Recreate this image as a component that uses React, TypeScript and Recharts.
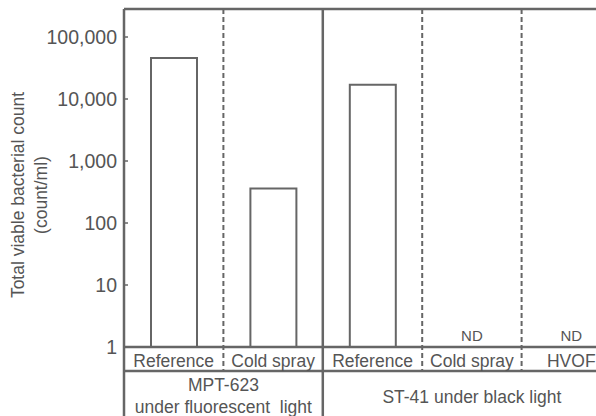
import React from "react"
import { BarChart, Bar, XAxis, YAxis, ReferenceLine } from "recharts"

const categories = ["Reference", "Cold spray", "Reference", "Cold spray", "HVOF"]
const counts: Array<number | null> = [46000, 360, 17000, null, null]
const groupLabels = [["MPT-623", "under fluorescent  light"], ["ST-41 under black light"]]
const groupSizes = [2, 3]
const yTicks = [1, 10, 100, 1000, 10000, 100000]
const yMax = 283000

const LINE = "#666"
const TEXT = "#555"
const FONT = "'Liberation Sans', Arial, sans-serif"

const data = categories.map((name, i) => ({ pos: i + 0.5, name, count: counts[i] }))

// group boundaries (solid), other category boundaries dashed
const groupEdges: number[] = []
groupSizes.reduce((acc, n) => {
  groupEdges.push(acc + n)
  return acc + n
}, 0)
const groupCenters = groupSizes.map((n, i) => groupEdges[i] - n / 2)
const separators = categories.slice(1).map((_, i) => ({ x: i + 1, solid: groupEdges.includes(i + 1) }))

const YTick = (props: any) => {
  const { x, y, payload } = props
  return (
    <g>
      <line x1={x + 7} x2={x + 11} y1={y} y2={y} stroke={LINE} strokeWidth={1.5} />
      <text x={x} y={y} textAnchor="end" dominantBaseline="central" fill={TEXT} fontSize={19.5} fontFamily={FONT}>
        {Number(payload.value).toLocaleString("en-US")}
      </text>
    </g>
  )
}

const CategoryTick = (props: any) => {
  const { x, y, payload } = props
  const i = Math.floor(payload.value)
  return (
    <g fontFamily={FONT} fill={TEXT}>
      <text x={x} y={y + 14} textAnchor="middle" dominantBaseline="central" fontSize={17.5}>
        {categories[i]}
      </text>
      {counts[i] == null && (
        <text x={x} y={y - 12} textAnchor="middle" dominantBaseline="central" fontSize={15}>
          ND
        </text>
      )}
    </g>
  )
}

const GroupTick = (props: any) => {
  const { x, y, index } = props
  const lines = groupLabels[index] || []
  const start = lines.length === 1 ? 26 : 14
  return (
    <g fontFamily={FONT} fill={TEXT}>
      {lines.map((t, k) => (
        <text key={k} x={x} y={y + start + k * 22} textAnchor="middle" dominantBaseline="central" fontSize={17.5} style={{ whiteSpace: "pre" }}>
          {t}
        </text>
      ))}
    </g>
  )
}

const sepShape = (extend: number, dashed: boolean) => (p: any) => {
  const top = Math.min(p.y1, p.y2)
  const bottom = Math.max(p.y1, p.y2)
  return (
    <line
      x1={p.x1}
      x2={p.x2}
      y1={top}
      y2={bottom + extend}
      stroke={LINE}
      strokeWidth={dashed ? 2 : 2.5}
      strokeDasharray={dashed ? "5 3" : undefined}
    />
  )
}

const YLabel = () => {
  const cy = 195
  return (
    <g fontFamily={FONT} fill={TEXT} fontSize={17.5}>
      <text x={18} y={cy} textAnchor="middle" dominantBaseline="central" transform={`rotate(-90 18 ${cy})`}>
        Total viable bacterial count
      </text>
      <text x={41} y={cy} textAnchor="middle" dominantBaseline="central" transform={`rotate(-90 41 ${cy})`}>
        (count/ml)
      </text>
    </g>
  )
}

export default function App() {
  return (
    <div style={{ position: "absolute", left: 0, top: 0, width: 596, height: 416, overflow: "hidden", background: "#fff" }}>
      <BarChart width={621} height={416} data={data} margin={{ top: 9, right: 0, bottom: 0, left: 0 }}>
        <XAxis
          xAxisId="cat"
          dataKey="pos"
          type="number"
          domain={[0, categories.length]}
          ticks={data.map((d) => d.pos)}
          allowDataOverflow
          height={24}
          tickLine={false}
          tickSize={0}
          tickMargin={0}
          axisLine={{ stroke: LINE, strokeWidth: 2.5 }}
          tick={<CategoryTick />}
          interval={0}
        />
        <XAxis
          xAxisId="grp"
          dataKey="pos"
          type="number"
          domain={[0, categories.length]}
          ticks={groupCenters}
          allowDataOverflow
          height={45}
          tickLine={false}
          tickSize={0}
          tickMargin={0}
          axisLine={{ stroke: LINE, strokeWidth: 2.5 }}
          tick={<GroupTick />}
          interval={0}
        />
        <YAxis
          scale="log"
          domain={[1, yMax]}
          ticks={yTicks}
          allowDataOverflow
          width={124}
          tickLine={false}
          tickSize={0}
          tickMargin={7}
          axisLine={false}
          tick={<YTick />}
          interval={0}
          label={<YLabel />}
        />
        <ReferenceLine xAxisId="cat" y={yMax} stroke={LINE} strokeWidth={2.5} ifOverflow="visible" />
        <ReferenceLine xAxisId="cat" x={0} ifOverflow="visible" shape={sepShape(69, false)} />
        {separators.map((s) => (
          <ReferenceLine
            key={s.x}
            xAxisId="cat"
            x={s.x}
            ifOverflow="visible"
            shape={sepShape(s.solid ? 69 : 24, !s.solid)}
          />
        ))}
        <Bar xAxisId="cat" dataKey="count" barSize={46} fill="#fff" stroke={LINE} strokeWidth={2} isAnimationActive={false} />
      </BarChart>
    </div>
  )
}
